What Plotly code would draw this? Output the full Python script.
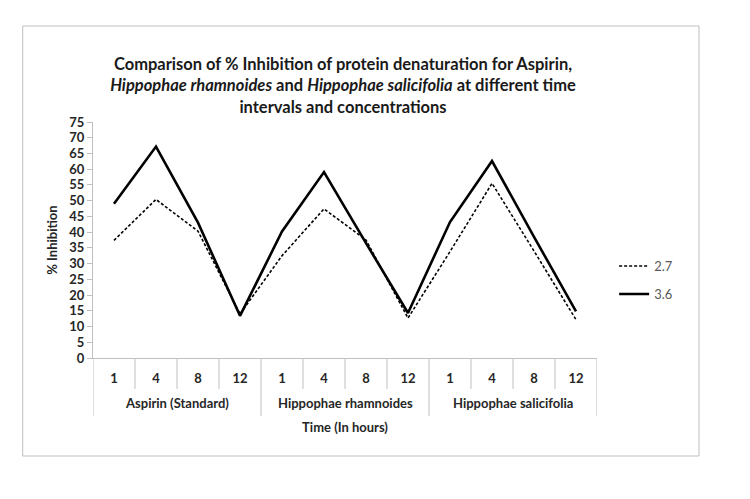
import plotly.graph_objects as go

groups = ["Aspirin (Standard)", "Hippophae rhamnoides", "Hippophae salicifolia"]
times = ["1", "4", "8", "12"]

conc_27 = [37.4, 50.4, 40.3, 14.0, 32.5, 47.4, 37.5, 12.7, 33.8, 55.5, 34.0, 12.2]
conc_36 = [49.0, 67.2, 43.0, 13.4, 40.2, 59.1, 36.5, 14.3, 43.2, 62.6, 38.5, 14.8]

# one slot per (group, time) pair on the x axis
x_inner = [t for g in groups for t in times]
x_pos = list(range(len(x_inner)))

font = "Lato, Open Sans, sans-serif"
grey = "#bfbfbf"
dark = "#262626"

fig = go.Figure()
fig.add_trace(go.Scatter(x=x_pos, y=conc_27, mode="lines", name="2.7", legendgroup="a",
                         line=dict(color="black", width=1.6, dash="3px,2px")))
fig.add_trace(go.Scatter(x=x_pos, y=conc_36, mode="lines", name="3.6", legendgroup="b",
                         line=dict(color="black", width=2.6)))

fig.update_layout(
    width=750, height=499,
    margin=dict(l=93, r=153, t=122, b=141),
    paper_bgcolor="white", plot_bgcolor="white",
    font=dict(family=font, color=dark),
    title=dict(
        text="Comparison of % Inhibition of protein denaturation for Aspirin,<br>"
             "<i>Hippophae rhamnoides</i> and <i>Hippophae salicifolia</i> at different time<br>"
             "intervals and concentrations",
        x=343 / 750, xanchor="center", xref="container",
        y=1 - 70 / 499, yanchor="middle", yref="container",
        font=dict(size=16.5, weight="bold", color="#1a1a1a")),
    showlegend=True,
    legend=dict(x=1.034, xanchor="left", y=0.33, yanchor="middle",
                traceorder="grouped", tracegroupgap=8,
                font=dict(size=13, color="#595959"),
                bgcolor="rgba(0,0,0,0)"),
)

fig.update_xaxes(
    range=[-0.5, len(x_pos) - 0.5],
    tickmode="array", tickvals=x_pos, ticktext=x_inner,
    showline=True, linecolor=grey, linewidth=1,
    ticks="outside", ticklen=8, tickcolor="rgba(0,0,0,0)",
    showgrid=False, zeroline=False,
    tickfont=dict(size=13, weight="bold", color=dark),
    title=dict(text="Time (In hours)", font=dict(size=13, weight="bold"), standoff=38),
)
fig.update_yaxes(
    range=[0, 75], dtick=5, tick0=0,
    showline=True, linecolor=grey, linewidth=1,
    ticks="outside", ticklen=5, tickcolor=grey,
    showgrid=False, zeroline=False,
    tickfont=dict(size=13, weight="bold", color=dark),
    title=dict(text="% Inhibition", font=dict(size=13, weight="bold"), standoff=8),
)

# category box under the x axis
n_t = len(times)
for k in range(len(x_pos) + 1):
    edge = k % n_t == 0
    fig.add_shape(type="line", xref="x", yref="paper",
                  x0=k - 0.5, x1=k - 0.5, y0=0, y1=-(58 if edge else 31) / 236,
                  line=dict(color=grey, width=1))

# group names on the second row
for i, g in enumerate(groups):
    fig.add_annotation(x=i * n_t + (n_t - 1) / 2, xref="x", y=-(403 - 358) / 236, yref="paper",
                       text=g, showarrow=False, yanchor="middle",
                       font=dict(size=13, weight="bold", color=dark))

fig.add_shape(type="rect", xref="paper", yref="paper",
              x0=(22.7 - 93) / 504, x1=(699 - 93) / 504,
              y0=(358 - 456) / 236, y1=(358 - 26) / 236,
              line=dict(color=grey, width=1), layer="below")

fig.write_html("out.html", config={"displayModeBar": False},
               post_script="document.body.style.margin='0';")
